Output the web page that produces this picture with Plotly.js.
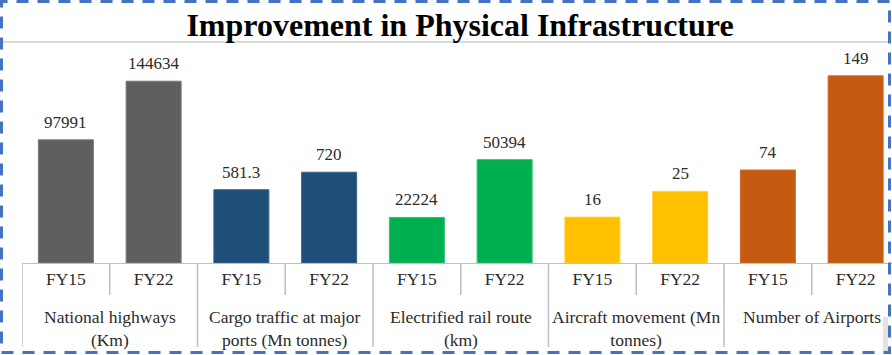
<!DOCTYPE html>
<html>
<head>
<meta charset="utf-8">
<script src="https://cdn.plot.ly/plotly-3.0.1.min.js"></script>
<style>html,body{margin:0;padding:0;background:#fff;}#chart{width:892px;height:355px;}</style>
</head>
<body>
<div id="chart"></div>
<script>
// ---- data ----
const groups = ["National highways<br>(Km)", "Cargo traffic at major<br>ports (Mn tonnes)", "Electrified rail route<br>(km)", "Aircraft movement (Mn<br>tonnes)", "Number of Airports"];
const periods = ["FY15", "FY22"];
const fy15 = [97991, 581.3, 22224, 16, 74];
const fy22 = [144634, 720, 50394, 25, 149];
// per-group axis maxima (each group drawn on its own value axis)
const axisMax = [161500, 1610, 99000, 70.8, 161.6];
// ---- style ----
const barColors = ["#5f5f5f", "#1f4e79", "#00b050", "#ffc000", "#c55a11"];
const edgeColors = ["#7a7a7a", "#3a6590", "#33c070", "#ffd040", "#d06a25"];
const serif = "Liberation Serif";
const textColor = "#2b2b2b";

const traces = [];
const annotations = [];
const shapes = [];
const layout = {
  width: 892, height: 355,
  margin: {l: 22, r: 0, t: 60, b: 92},
  paper_bgcolor: "#ffffff", plot_bgcolor: "#ffffff",
  showlegend: false,
  bargap: 0,
  font: {family: serif, color: textColor},
  title: {
    text: "<b>Improvement in Physical Infrastructure</b>",
    font: {family: serif, size: 32, color: "#000000"},
    x: 460 / 892, xanchor: "center", xref: "container",
    y: 1 - 25 / 355, yanchor: "middle", yref: "container"
  },
  xaxis: {
    type: "linear",
    range: [-0.5, -0.5 + 870 / 87.75],
    tickvals: [], ticktext: [],
    ticks: "", showgrid: false, zeroline: false,
    showline: true, linecolor: "#bfbfbf", linewidth: 1,
    tickfont: {family: serif, size: 17.5, color: textColor},
    fixedrange: true
  }
};

groups.forEach((g, gi) => {
  const vals = [fy15[gi], fy22[gi]];
  const xs = periods.map((p, pi) => gi * periods.length + pi);
  const axName = gi === 0 ? "y" : "y" + (gi + 1);
  const axKey = gi === 0 ? "yaxis" : "yaxis" + (gi + 1);
  traces.push({
    type: "bar", x: xs, y: vals, yaxis: axName, width: 0.627,
    marker: {color: barColors[gi], line: {color: edgeColors[gi], width: 1}},
    hoverinfo: "skip"
  });
  const ax = {range: [0, axisMax[gi]], visible: false, showgrid: false, zeroline: false, fixedrange: true};
  if (gi > 0) { ax.overlaying = "y"; }
  layout[axKey] = ax;
  periods.forEach((p, pi) => {
    layout.xaxis.tickvals.push(xs[pi]);
    layout.xaxis.ticktext.push(p);
    annotations.push({
      x: xs[pi], y: vals[pi], xref: "x", yref: axName,
      text: String(vals[pi]), showarrow: false,
      yanchor: "bottom", yshift: 6,
      font: {family: serif, size: 17, color: textColor}
    });
  });
  // group label
  annotations.push({
    x: gi * 2 + 0.5, y: 0, xref: "x", yref: "paper",
    text: g, showarrow: false, yanchor: "top", yshift: -42,
    font: {family: serif, size: 17.5, color: textColor}
  });
  // dividers
  shapes.push({type: "line", xref: "x", yref: "paper", ysizemode: "pixel", yanchor: 0,
    x0: gi * 2 - 0.5, x1: gi * 2 - 0.5, y0: 0, y1: -84, line: {color: "#bfbfbf", width: 1.5}});
  shapes.push({type: "line", xref: "x", yref: "paper", ysizemode: "pixel", yanchor: 0,
    x0: gi * 2 + 0.5, x1: gi * 2 + 0.5, y0: 0, y1: -32, line: {color: "#bfbfbf", width: 1.5}});
});

// line under the title
shapes.push({type: "line", xref: "paper", yref: "paper", ysizemode: "pixel", yanchor: 1,
  x0: -19 / 870, x1: 867 / 870, y0: 18, y1: 18, line: {color: "#d9d9d9", width: 2}});
// small grey patch bottom right
shapes.push({type: "rect", xref: "paper", yref: "paper", layer: "below",
  x0: (883 - 22) / 870, x1: (888 - 22) / 870, y0: (263 - 352) / 203, y1: (263 - 317) / 203,
  line: {width: 0}, fillcolor: "#e3e3e3"});
// dashed frame
shapes.push({type: "rect", xref: "paper", yref: "paper",
  x0: (1.5 - 22) / 870, x1: (889.5 - 22) / 870, y0: (263 - 352.5) / 203, y1: (263 - 1.5) / 203,
  line: {color: "#4472c4", width: 3, dash: "12px,9px"}, fillcolor: "rgba(0,0,0,0)"});

layout.annotations = annotations;
layout.shapes = shapes;

Plotly.newPlot("chart", traces, layout, {staticPlot: true, displayModeBar: false});
</script>
</body>
</html>
